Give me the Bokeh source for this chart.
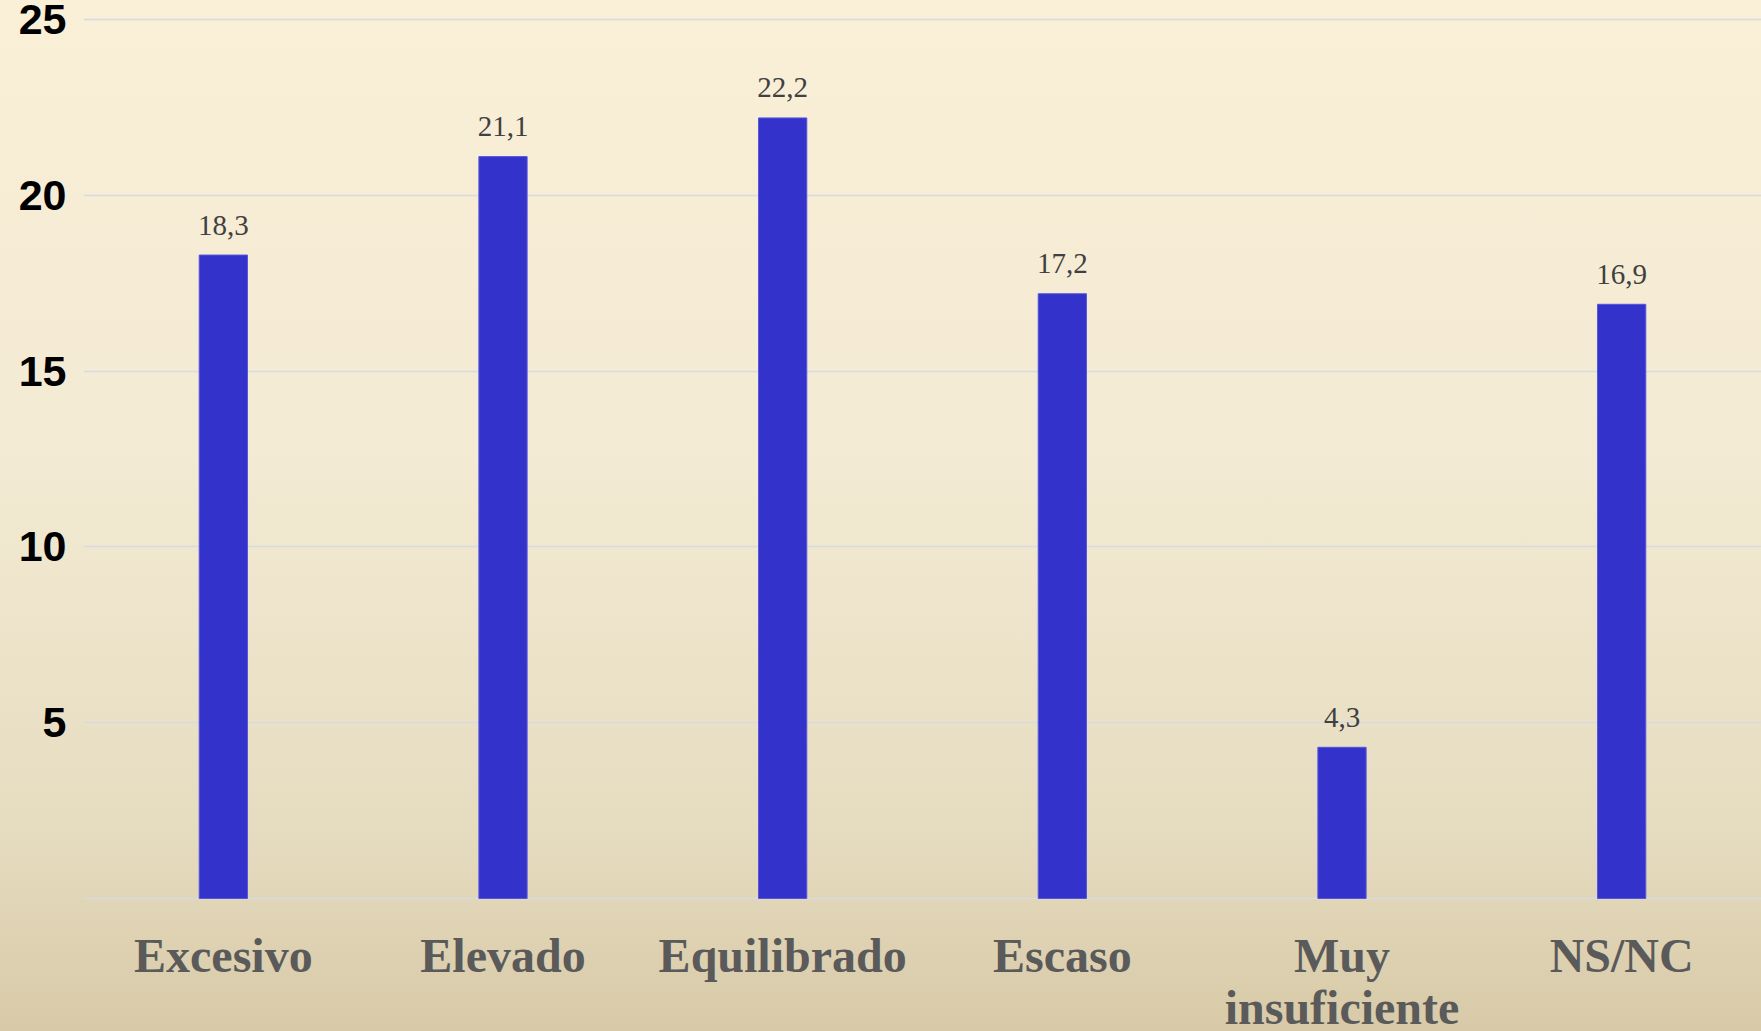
from bokeh.plotting import figure
from bokeh.models import ColumnDataSource, Range1d, FixedTicker
from bokeh.core.properties import value
from bokeh.embed import file_html
from bokeh.resources import INLINE

categories = ["Excesivo", "Elevado", "Equilibrado", "Escaso", "Muy\ninsuficiente", "NS/NC"]
values = [18.3, 21.1, 22.2, 17.2, 4.3, 16.9]
value_labels = ["18,3", "21,1", "22,2", "17,2", "4,3", "16,9"]
y_ticks = [5, 10, 15, 20, 25]
grid_ticks = [0, 5, 10, 15, 20, 25]

xs = list(range(len(categories)))
src = ColumnDataSource(dict(x=xs, top=values, lab=value_labels,
                            cat=categories, base=[0] * len(xs)))

p = figure(width=1761, height=1031, output_backend="svg", toolbar_location=None,
           x_range=Range1d(-0.5, 5.5), y_range=Range1d(-3.783, 25.54),
           min_border_left=83, min_border_right=0, min_border_top=0, min_border_bottom=0)

p.background_fill_color = None
p.border_fill_color = None
p.outline_line_color = None
p.styles = {"background": "linear-gradient(to bottom, #FAEFD7 0%, #F3EAD3 45%, #E6DCC0 80%, #D8CAA8 100%)"}

p.vbar(x="x", top="top", bottom=0, width=0.1725, source=src,
       fill_color="#3333CC", line_color="#5555DD", line_width=1)

# value labels above bars
p.text(x="x", y="top", text="lab", source=src, y_offset=-30,
       text_align="center", text_baseline="alphabetic",
       text_font=value("Liberation Serif"), text_font_size="29px", text_color="#404040")

# category labels under the baseline
p.text(x="x", y="base", text="cat", source=src, y_offset=31,
       text_align="center", text_baseline="top", text_line_height=0.98,
       text_font=value("Liberation Serif"), text_font_style="bold",
       text_font_size="48px", text_color="#5a5a5a")

p.xaxis.visible = False

p.yaxis.ticker = FixedTicker(ticks=y_ticks)
p.yaxis.major_label_text_font = "Liberation Sans"
p.yaxis.major_label_text_font_style = "bold"
p.yaxis.major_label_text_font_size = "43px"
p.yaxis.major_label_text_color = "#000000"
p.yaxis.major_label_standoff = 17
p.yaxis.axis_line_color = None
p.yaxis.major_tick_line_color = None
p.yaxis.minor_tick_line_color = None
p.yaxis.major_tick_out = 0
p.yaxis.major_tick_in = 0

p.xgrid.grid_line_color = None
p.ygrid.ticker = FixedTicker(ticks=grid_ticks)
p.ygrid.grid_line_color = "#d6dae2"
p.ygrid.grid_line_width = 1.5

open("out.html", "w").write(file_html(p, INLINE))
